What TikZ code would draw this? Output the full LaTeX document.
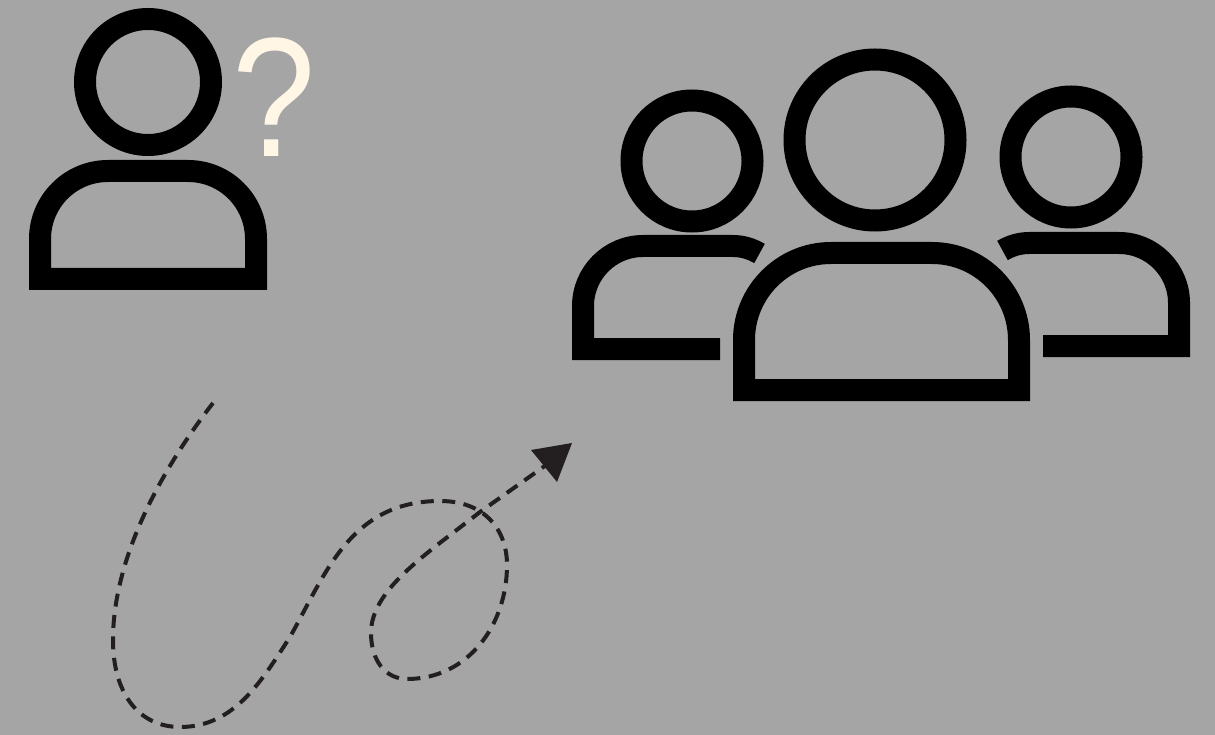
\documentclass[tikz,border=0pt]{standalone}
\usepackage{fontspec}
\setmainfont{Liberation Sans}
\definecolor{bgc}{HTML}{A5A5A5}
\definecolor{qc}{HTML}{FFF6E6}
\definecolor{dashc}{HTML}{231F20}
\tikzset{
  icon/.style={draw=black,line width=22pt,line cap=butt,miter limit=10},
  route/.style={draw=dashc,line width=4pt,dash pattern=on 13pt off 8.5pt},
  tip/.style={fill=dashc,draw=none},
}
\begin{document}
\begin{tikzpicture}[x=1pt,y=-1pt]
\fill[bgc] (0,0) rectangle (1215,735);
\useasboundingbox (0,0) rectangle (1215,735);
% single person
\draw[icon] (148,82) circle (63pt);
\draw[icon] (40,279) -- (40,239) .. controls (40,201.4) and (70.4,171) .. (108,171) -- (188,171) .. controls (225.6,171) and (256,201.4) .. (256,239) -- (256,279) -- cycle;
\node[text=qc,font=\fontsize{170}{170}\selectfont,inner sep=0pt,anchor=base,xscale=0.88] (q) at (274.5,157) {?};
% centre person of the group
\draw[icon] (875,140) circle (80.5pt);
\draw[icon] (744,390) -- (744,340) .. controls (744,292) and (783,253) .. (831,253) -- (932,253) .. controls (980,253) and (1019,292) .. (1019,340) -- (1019,390) -- cycle;
% left person of the group
\draw[icon] (692,161) circle (60.5pt);
\draw[icon] (720,349) -- (583,349) -- (583,306) .. controls (583,273) and (610,246) .. (643,246) -- (733,246) .. controls (742,246) and (751,248.5) .. (759.5,253.5);
% right person of the group
\draw[icon] (1071,157) circle (60.5pt);
\draw[icon] (1043,346) -- (1179,346) -- (1179,303) .. controls (1179,270) and (1152,243) .. (1119,243) -- (1029,243) .. controls (1020,243) and (1011,245.5) .. (1002.5,250.5);
% dashed route
\coordinate (routeStart) at (213,403);
\coordinate (routeEnd) at (556,458);
\draw[route] (routeStart) .. controls (165,465) and (113,555) .. (113,640)
  .. controls (113,695) and (140,727) .. (180,727)
  .. controls (235,727) and (262,680) .. (290,637)
  .. controls (325,575) and (350,501) .. (440,501)
  .. controls (485,501) and (507,530) .. (507,565)
  .. controls (507,625) and (468,679) .. (407,679)
  .. controls (385,679) and (371,660) .. (371,633)
  .. controls (371,590) and (425,555) .. (480,512)
  -- (routeEnd);
\fill[tip] (572,443) -- (531,450) -- (557,482) -- cycle;
\end{tikzpicture}
\end{document}
